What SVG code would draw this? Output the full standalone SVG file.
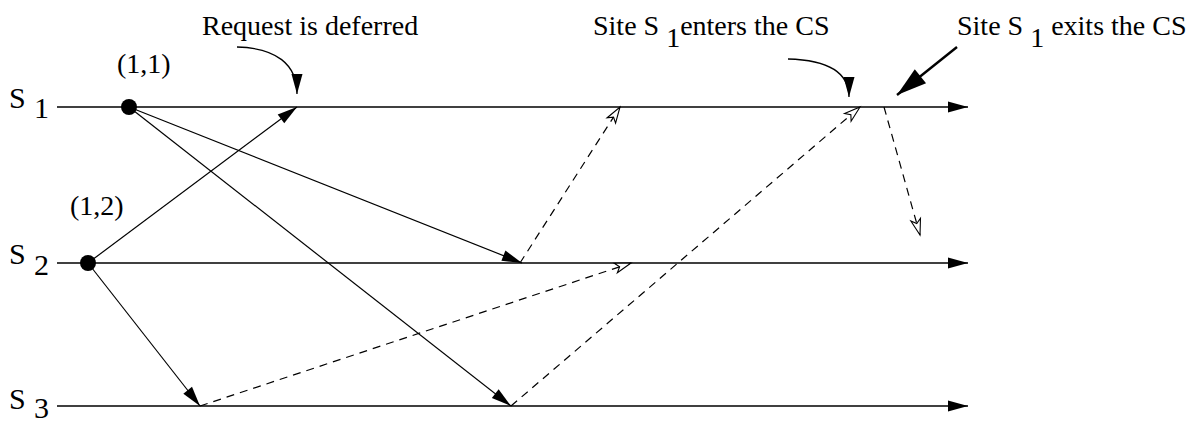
<svg xmlns="http://www.w3.org/2000/svg" width="1202" height="422" viewBox="0 0 1202 422">
<style>
text{font-family:"Liberation Serif","Times New Roman",serif;font-size:28px;fill:#000}
.lab{font-size:30px}
.tl{stroke:#000;stroke-width:1.5;fill:none;marker-end:url(#fill)}
.msg{stroke:#000;stroke-width:1.2;fill:none;marker-end:url(#fill)}
.dash{stroke:#000;stroke-width:1.2;fill:none;stroke-dasharray:8 6;marker-end:url(#open)}
.note{stroke:#000;stroke-width:1.3;fill:none;marker-end:url(#fill)}
</style>
<defs>
<marker id="fill" markerUnits="userSpaceOnUse" markerWidth="22" markerHeight="12" refX="20" refY="5.5" orient="auto" overflow="visible">
<path d="M0,0 L20,5.5 L0,11 Z" fill="#000"/>
</marker>
<marker id="open" markerUnits="userSpaceOnUse" markerWidth="18" markerHeight="12" refX="16" refY="5" orient="auto" overflow="visible">
<path d="M0,0 L16,5 L0,10 L4,5 Z" fill="#fff" stroke="#000" stroke-width="1.1"/>
</marker>
<marker id="big" markerUnits="userSpaceOnUse" markerWidth="32" markerHeight="20" refX="30" refY="9" orient="auto" overflow="visible">
<path d="M0,0 L30,9 L0,18 Z" fill="#000"/>
</marker>
</defs>
<g id="site-s1">
<line class="tl" x1="57" y1="107" x2="968" y2="107"/>
<text class="lab" x="9" y="108">S</text><text class="lab" x="34" y="118">1</text>
</g>
<g id="site-s2">
<line class="tl" x1="57" y1="263" x2="968" y2="263"/>
<text class="lab" x="9" y="264">S</text><text class="lab" x="34" y="275">2</text>
</g>
<g id="site-s3">
<line class="tl" x1="57" y1="406" x2="968" y2="406"/>
<text class="lab" x="9" y="409">S</text><text class="lab" x="34" y="418">3</text>
</g>
<g id="event-11">
<circle cx="129" cy="107" r="8" fill="#000"/>
<text x="117" y="73">(1,1)</text>
</g>
<g id="event-12">
<circle cx="88" cy="263" r="8" fill="#000"/>
<text x="70" y="215">(1,2)</text>
</g>
<g id="label-deferred">
<text x="202" y="35">Request is deferred</text>
</g>
<g id="label-enters">
<text x="593" y="35">Site S <tspan dy="12">1</tspan><tspan dy="-12">enters the CS</tspan></text>
</g>
<g id="label-exits">
<text x="957" y="35">Site S <tspan dy="12">1</tspan><tspan dy="-12"> exits the CS</tspan></text>
</g>
<g id="connectors">
<line class="msg" x1="129" y1="107" x2="522" y2="263"/>
<line class="msg" x1="129" y1="107" x2="511" y2="406"/>
<line class="msg" x1="88" y1="263" x2="297" y2="107"/>
<line class="msg" x1="88" y1="263" x2="200" y2="406"/>
<line class="dash" x1="520" y1="263" x2="620" y2="107"/>
<line class="dash" x1="200" y1="406" x2="631" y2="263"/>
<line class="dash" x1="511" y1="406" x2="860" y2="107"/>
<line class="dash" x1="884" y1="107" x2="920" y2="235"/>
<path class="note" d="M237,47 C276,48 297,64 297,94"/>
<path class="note" d="M788,59 C828,60 849,72 849,97"/>
<line stroke="#000" stroke-width="2.5" x1="957" y1="47" x2="897" y2="95" marker-end="url(#big)"/>
</g>
</svg>
